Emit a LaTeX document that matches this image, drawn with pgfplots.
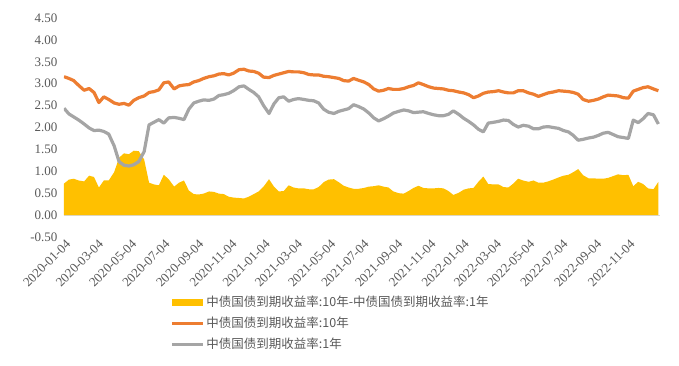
\documentclass[border=0pt]{standalone}
\usepackage{fontspec}
\setmainfont{Liberation Serif}
\newfontfamily\cjk{Noto Sans CJK SC}
\usepackage{pgfplots}
\pgfplotsset{compat=1.18}
\usepackage{pgfplotstable}
\definecolor{cY}{HTML}{FFC000}
\definecolor{cO}{HTML}{ED7D31}
\definecolor{cG}{HTML}{A5A5A5}
\definecolor{txt}{HTML}{595959}
\pgfplotstableread{
day y10 y1 spread
1 3.16 2.44 0.72
10 3.12 2.31 0.81
19 3.07 2.24 0.83
28 2.96 2.17 0.79
38 2.85 2.08 0.77
47 2.89 1.99 0.90
56 2.80 1.93 0.87
65 2.57 1.94 0.63
74 2.70 1.91 0.79
83 2.64 1.85 0.79
93 2.56 1.58 0.98
102 2.53 1.22 1.31
111 2.55 1.14 1.41
120 2.51 1.12 1.39
129 2.62 1.15 1.47
138 2.68 1.22 1.46
148 2.72 1.45 1.27
157 2.80 2.06 0.74
166 2.82 2.12 0.70
175 2.86 2.18 0.68
184 3.02 2.10 0.92
193 3.04 2.22 0.82
203 2.88 2.23 0.65
212 2.95 2.21 0.74
221 2.97 2.18 0.79
230 2.98 2.42 0.56
239 3.04 2.56 0.48
248 3.07 2.60 0.47
257 3.12 2.63 0.49
267 3.16 2.62 0.54
276 3.18 2.65 0.53
285 3.22 2.73 0.49
294 3.23 2.75 0.48
303 3.20 2.78 0.42
312 3.24 2.84 0.40
322 3.32 2.93 0.39
331 3.33 2.95 0.38
340 3.29 2.87 0.42
349 3.28 2.80 0.48
358 3.24 2.70 0.54
367 3.15 2.50 0.65
377 3.14 2.32 0.82
386 3.19 2.54 0.65
395 3.22 2.68 0.54
404 3.25 2.70 0.55
413 3.28 2.60 0.68
422 3.27 2.64 0.63
431 3.27 2.66 0.61
441 3.25 2.64 0.61
450 3.21 2.62 0.59
459 3.20 2.61 0.59
468 3.20 2.56 0.64
477 3.17 2.42 0.75
486 3.16 2.35 0.81
496 3.14 2.32 0.82
505 3.12 2.37 0.75
514 3.07 2.40 0.67
523 3.06 2.43 0.63
532 3.12 2.52 0.60
541 3.08 2.48 0.60
551 3.04 2.42 0.62
560 2.98 2.33 0.65
569 2.88 2.22 0.66
578 2.83 2.15 0.68
587 2.85 2.20 0.65
596 2.89 2.26 0.63
605 2.87 2.33 0.54
615 2.87 2.37 0.50
624 2.89 2.40 0.49
633 2.93 2.38 0.55
642 2.96 2.34 0.62
651 3.02 2.35 0.67
660 2.98 2.36 0.62
670 2.93 2.32 0.61
679 2.90 2.29 0.61
688 2.89 2.27 0.62
697 2.88 2.27 0.61
706 2.85 2.30 0.55
715 2.84 2.38 0.46
725 2.81 2.30 0.51
734 2.79 2.21 0.58
743 2.75 2.14 0.61
752 2.68 2.06 0.62
761 2.72 1.96 0.76
770 2.78 1.90 0.88
779 2.81 2.10 0.71
789 2.82 2.12 0.70
798 2.84 2.14 0.70
807 2.81 2.17 0.64
816 2.79 2.16 0.63
825 2.79 2.07 0.72
834 2.84 2.01 0.83
843 2.84 2.05 0.79
853 2.79 2.03 0.76
862 2.76 1.97 0.79
871 2.71 1.97 0.74
880 2.75 2.01 0.74
889 2.79 2.02 0.77
898 2.81 2.00 0.81
908 2.84 1.98 0.86
917 2.83 1.93 0.90
926 2.82 1.90 0.92
935 2.80 1.82 0.98
944 2.76 1.71 1.05
953 2.64 1.73 0.91
963 2.60 1.76 0.84
972 2.62 1.78 0.84
981 2.65 1.82 0.83
990 2.70 1.87 0.83
999 2.74 1.89 0.85
1008 2.73 1.84 0.89
1017 2.72 1.79 0.93
1027 2.68 1.77 0.91
1036 2.67 1.75 0.92
1045 2.83 2.17 0.66
1054 2.87 2.11 0.76
1063 2.91 2.20 0.71
1072 2.93 2.32 0.61
1082 2.88 2.29 0.59
1091 2.84 2.08 0.76
}\data
\begin{document}
\begin{tikzpicture}
\begin{axis}[name=ax,
  scale only axis, width=596pt, height=219pt,
  xmin=1, xmax=1094, ymin=-0.5, ymax=4.5,
  axis line style={draw=none}, major tick length=0pt,
  xtick={3,63,124,185,247,308,369,428,489,550,612,673,734,793,854,915,977,1038},
  xticklabels={2020-01-04,2020-03-04,2020-05-04,2020-07-04,2020-09-04,2020-11-04,2021-01-04,2021-03-04,2021-05-04,2021-07-04,2021-09-04,2021-11-04,2022-01-04,2022-03-04,2022-05-04,2022-07-04,2022-09-04,2022-11-04},
  x tick label style={rotate=45, anchor=north east, font=\fontsize{13}{13}\selectfont, text=txt, inner sep=1pt},
  ytick={-0.5,0,0.5,1,1.5,2,2.5,3,3.5,4,4.5},
  yticklabels={-0.50,0.00,0.50,1.00,1.50,2.00,2.50,3.00,3.50,4.00,4.50},
  y tick label style={font=\fontsize{13}{13}\selectfont, text=txt, xshift=-3pt},
  extra y ticks={0}, extra y tick labels={},
  extra y tick style={grid=major, major grid style={draw=black!15, line width=0.8pt}},
  legend style={at={(0.178,-0.26)}, anchor=north west, draw=none, fill=none,
    font=\cjk\fontsize{12.5}{13}\selectfont, text=txt, row sep=5pt, inner sep=0pt},
  legend cell align=left,
]
\addplot[fill=cY, draw=none, legend image code/.code={\fill[cY] (0pt,-3.5pt) rectangle (31pt,3.5pt);}]
  table[x=day, y=spread]{\data} \closedcycle;
\addlegendentry{中债国债到期收益率:10年-中债国债到期收益率:1年}
\addplot[cO, line width=3.2pt, line join=round, legend image code/.code={\draw[cO, line width=3.2pt] (0pt,0pt) -- (31pt,0pt);}]
  table[x=day, y=y10]{\data};
\addlegendentry{中债国债到期收益率:10年}
\addplot[cG, line width=3.2pt, line join=round, legend image code/.code={\draw[cG, line width=3.2pt] (0pt,0pt) -- (31pt,0pt);}]
  table[x=day, y=y1]{\data};
\addlegendentry{中债国债到期收益率:1年}
\end{axis}
\pgfresetboundingbox
\path[use as bounding box] (ax.south west) ++(-64pt,-129pt) rectangle ++(679pt,366pt);
\end{tikzpicture}
\end{document}
